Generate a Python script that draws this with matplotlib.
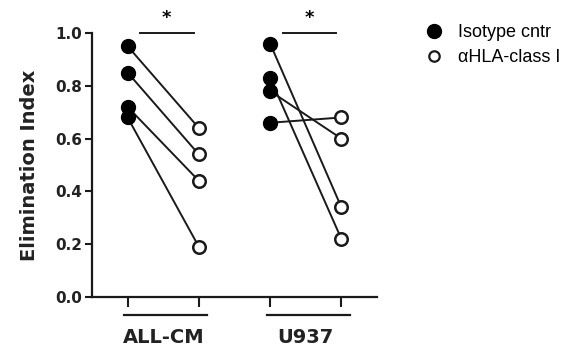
import matplotlib
matplotlib.use("Agg")
import matplotlib.pyplot as plt
from matplotlib.lines import Line2D

plt.rcParams['font.family'] = ['DejaVu Sans']

groups = ['ALL-CM', 'U937']
# paired values: isotype control -> anti-HLA class I
allcm_iso = [0.95, 0.85, 0.72, 0.68]
allcm_hla = [0.64, 0.54, 0.44, 0.19]
u937_iso = [0.96, 0.83, 0.78, 0.66]
u937_hla = [0.34, 0.22, 0.60, 0.68]

fig = plt.figure(figsize=(5.74, 3.54), dpi=100)
ax = fig.add_axes([92/574, 1 - 297/354, (377 - 92)/574, (297 - 33)/354])

pairs = [(0, allcm_iso, allcm_hla), (2, u937_iso, u937_hla)]
for x0, iso, hla in pairs:
    for a, b in zip(iso, hla):
        ax.plot([x0, x0 + 1], [a, b], color='#1a1a1a', lw=1.4, zorder=1)
    ax.plot([x0] * len(iso), iso, 'o', color='black', ms=10, zorder=3)
    ax.plot([x0 + 1] * len(hla), hla, 'o', mfc='white', mec='#1a1a1a',
            mew=1.8, ms=9, zorder=3)

# significance bars
for x0 in [0, 2]:
    ax.plot([x0 + 0.18, x0 + 0.93], [1.0, 1.0], color='#1a1a1a', lw=1.4,
            clip_on=False)
    ax.text(x0 + 0.55, 1.055, '*', ha='center', va='center', fontsize=13,
            fontweight='bold')

ax.set_xlim(-0.5, 3.5)
ax.set_ylim(0, 1.0)
ax.set_yticks([0.0, 0.2, 0.4, 0.6, 0.8, 1.0])
ax.set_yticklabels(['0.0', '0.2', '0.4', '0.6', '0.8', '1.0'],
                   fontsize=11, fontweight='bold', color='#222222')
ax.set_xticks([0, 1, 2, 3])
ax.set_xticklabels([])
ax.tick_params(axis='x', length=7, width=1.5, color='#1a1a1a')
ax.tick_params(axis='y', length=5, width=1.5, color='#1a1a1a', pad=2)
for s in ['top', 'right']:
    ax.spines[s].set_visible(False)
for s in ['left', 'bottom']:
    ax.spines[s].set_linewidth(1.6)
    ax.spines[s].set_color('#1a1a1a')

ax.set_ylabel('Elimination Index', fontsize=14, fontweight='bold',
              color='#222222', labelpad=12)

# group underlines and labels
tr = ax.get_xaxis_transform()
for i, g in enumerate(groups):
    x0 = 2 * i
    ax.plot([x0 - 0.05, x0 + 1.12], [-0.068, -0.068], color='#1a1a1a', lw=1.6,
            transform=tr, clip_on=False)
    ax.text(x0 + 0.5, -0.152, g, transform=tr, ha='center', va='center',
            fontsize=14, fontweight='bold', color='#222222')

handles = [
    Line2D([], [], marker='o', ls='none', color='black', ms=10),
    Line2D([], [], marker='o', ls='none', mfc='white', mec='#1a1a1a',
           mew=1.6, ms=7.5),
]
fig.legend(handles, ['Isotype cntr', 'αHLA-class I'], loc='upper left',
           bbox_to_anchor=(407/574, 1 - 8/354), frameon=False,
           prop={'family': 'Liberation Sans', 'size': 13},
           handletextpad=0.75, labelspacing=0.45, handlelength=1.2)

fig.savefig('out.png', dpi=100)
